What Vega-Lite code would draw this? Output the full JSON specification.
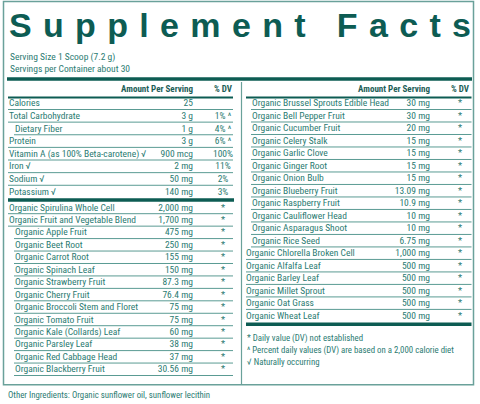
{
  "$schema": "https://vega.github.io/schema/vega-lite/v6.json",
  "width": 480,
  "height": 404,
  "autosize": {"type": "none"},
  "padding": 0,
  "background": "white",
  "config": {"view": {"stroke": null}, "text": {"font": "Roboto Condensed, Liberation Sans Narrow, Roboto, sans-serif"}},
  "resolve": {"scale": {"y": "independent"}},
  "datasets": {
    "rows": [
      {"panel": "L", "row": 1, "name": "Calories", "amount": "25", "dv": "", "level": 0},
      {"panel": "L", "row": 2, "name": "Total Carbohydrate", "amount": "3 g", "dv": "1% ^", "level": 0},
      {"panel": "L", "row": 3, "name": "Dietary Fiber", "amount": "1 g", "dv": "4% ^", "level": 1},
      {"panel": "L", "row": 4, "name": "Protein", "amount": "3 g", "dv": "6% ^", "level": 0},
      {"panel": "L", "row": 5, "name": "Vitamin A (as 100% Beta-carotene) √", "amount": "900 mcg", "dv": "100%", "level": 0},
      {"panel": "L", "row": 6, "name": "Iron √", "amount": "2 mg", "dv": "11%", "level": 0},
      {"panel": "L", "row": 7, "name": "Sodium √", "amount": "50 mg", "dv": "2%", "level": 0},
      {"panel": "L", "row": 8, "name": "Potassium √", "amount": "140 mg", "dv": "3%", "level": 0},
      {"panel": "L", "row": 9, "name": "Organic Spirulina Whole Cell", "amount": "2,000 mg", "dv": "*", "level": 0},
      {"panel": "L", "row": 10, "name": "Organic Fruit and Vegetable Blend", "amount": "1,700 mg", "dv": "*", "level": 0},
      {"panel": "L", "row": 11, "name": "Organic Apple Fruit", "amount": "475 mg", "dv": "*", "level": 1},
      {"panel": "L", "row": 12, "name": "Organic Beet Root", "amount": "250 mg", "dv": "*", "level": 1},
      {"panel": "L", "row": 13, "name": "Organic Carrot Root", "amount": "155 mg", "dv": "*", "level": 1},
      {"panel": "L", "row": 14, "name": "Organic Spinach Leaf", "amount": "150 mg", "dv": "*", "level": 1},
      {"panel": "L", "row": 15, "name": "Organic Strawberry Fruit", "amount": "87.3 mg", "dv": "*", "level": 1},
      {"panel": "L", "row": 16, "name": "Organic Cherry Fruit", "amount": "76.4 mg", "dv": "*", "level": 1},
      {"panel": "L", "row": 17, "name": "Organic Broccoli Stem and Floret", "amount": "75 mg", "dv": "*", "level": 1},
      {"panel": "L", "row": 18, "name": "Organic Tomato Fruit", "amount": "75 mg", "dv": "*", "level": 1},
      {"panel": "L", "row": 19, "name": "Organic Kale (Collards) Leaf", "amount": "60 mg", "dv": "*", "level": 1},
      {"panel": "L", "row": 20, "name": "Organic Parsley Leaf", "amount": "38 mg", "dv": "*", "level": 1},
      {"panel": "L", "row": 21, "name": "Organic Red Cabbage Head", "amount": "37 mg", "dv": "*", "level": 1},
      {"panel": "L", "row": 22, "name": "Organic Blackberry Fruit", "amount": "30.56 mg", "dv": "*", "level": 1},
      {"panel": "R", "row": 1, "name": "Organic Brussel Sprouts Edible Head", "amount": "30 mg", "dv": "*", "level": 1},
      {"panel": "R", "row": 2, "name": "Organic Bell Pepper Fruit", "amount": "30 mg", "dv": "*", "level": 1},
      {"panel": "R", "row": 3, "name": "Organic Cucumber Fruit", "amount": "20 mg", "dv": "*", "level": 1},
      {"panel": "R", "row": 4, "name": "Organic Celery Stalk", "amount": "15 mg", "dv": "*", "level": 1},
      {"panel": "R", "row": 5, "name": "Organic Garlic Clove", "amount": "15 mg", "dv": "*", "level": 1},
      {"panel": "R", "row": 6, "name": "Organic Ginger Root", "amount": "15 mg", "dv": "*", "level": 1},
      {"panel": "R", "row": 7, "name": "Organic Onion Bulb", "amount": "15 mg", "dv": "*", "level": 1},
      {"panel": "R", "row": 8, "name": "Organic Blueberry Fruit", "amount": "13.09 mg", "dv": "*", "level": 1},
      {"panel": "R", "row": 9, "name": "Organic Raspberry Fruit", "amount": "10.9 mg", "dv": "*", "level": 1},
      {"panel": "R", "row": 10, "name": "Organic Cauliflower Head", "amount": "10 mg", "dv": "*", "level": 1},
      {"panel": "R", "row": 11, "name": "Organic Asparagus Shoot", "amount": "10 mg", "dv": "*", "level": 1},
      {"panel": "R", "row": 12, "name": "Organic Rice Seed", "amount": "6.75 mg", "dv": "*", "level": 1},
      {"panel": "R", "row": 13, "name": "Organic Chlorella Broken Cell", "amount": "1,000 mg", "dv": "*", "level": 0},
      {"panel": "R", "row": 14, "name": "Organic Alfalfa Leaf", "amount": "500 mg", "dv": "*", "level": 0},
      {"panel": "R", "row": 15, "name": "Organic Barley Leaf", "amount": "500 mg", "dv": "*", "level": 0},
      {"panel": "R", "row": 16, "name": "Organic Millet Sprout", "amount": "500 mg", "dv": "*", "level": 0},
      {"panel": "R", "row": 17, "name": "Organic Oat Grass", "amount": "500 mg", "dv": "*", "level": 0},
      {"panel": "R", "row": 18, "name": "Organic Wheat Leaf", "amount": "500 mg", "dv": "*", "level": 0}
    ]
  },
  "data": {"name": "rows"},
  "layer": [
    {
      "data": {"values": [{}]},
      "mark": {"type": "rect", "fillOpacity": 0, "stroke": "#6aa19a", "strokeWidth": 1.5},
      "encoding": {
        "x": {"datum": 3.5, "type": "quantitative", "scale": {"domain": [0, 480], "nice": false, "zero": false}, "axis": null},
        "x2": {"datum": 473.5},
        "y": {"datum": -7.095, "type": "quantitative", "scale": {"domain": [-7.214, 24.849], "nice": false, "zero": false, "reverse": true}, "axis": null},
        "y2": {"datum": 23.325}
      }
    },
    {
      "data": {"values": [{}]},
      "mark": {"type": "text", "align": "left", "baseline": "alphabetic", "font": "Liberation Sans", "fontWeight": "bold", "fontSize": 34, "color": "#0d5c53", "text": "S\u2004u\u2004p\u2004p\u2004l\u2004e\u2004m\u2004e\u2004n\u2004t\u2004\u2004\u2005F\u2004a\u2004c\u2004t\u2004s"},
      "encoding": {
        "x": {"datum": 9},
        "y": {"datum": -4.278, "type": "quantitative", "scale": {"domain": [-7.214, 24.849], "nice": false, "zero": false, "reverse": true}, "axis": null}
      }
    },
    {
      "data": {"values": [{}]},
      "mark": {"type": "text", "align": "left", "baseline": "alphabetic", "fontSize": 9.5, "lineHeight": 12, "color": "#2b7b72", "text": ["Serving Size 1 Scoop (7.2 g)", "Servings per Container about 30"]},
      "encoding": {
        "x": {"datum": 10},
        "y": {"datum": -2.413, "type": "quantitative", "scale": {"domain": [-7.214, 24.849], "nice": false, "zero": false, "reverse": true}, "axis": null}
      }
    },
    {
      "data": {"values": [{}]},
      "mark": {"type": "rule", "color": "#0d5c53", "strokeWidth": 3.5},
      "encoding": {"x": {"datum": 7}, "x2": {"datum": 472}, "y": {"datum": -0.944, "type": "quantitative", "scale": {"domain": [-7.214, 24.849], "nice": false, "zero": false, "reverse": true}, "axis": null}}
    },
    {
      "data": {"values": [{}]},
      "mark": {"type": "rule", "color": "#6aa19a", "strokeWidth": 1.2},
      "encoding": {"x": {"datum": 241.5}, "y": {"datum": -0.706, "type": "quantitative", "scale": {"domain": [-7.214, 24.849], "nice": false, "zero": false, "reverse": true}, "axis": null}, "y2": {"datum": 23.325}}
    },
    {
      "data": {"values": [{}]},
      "mark": {"type": "text", "align": "right", "baseline": "middle", "fontWeight": "bold", "fontSize": 9, "color": "#1d5e57", "text": "Amount Per Serving"},
      "encoding": {"x": {"datum": 193}, "y": {"datum": -0.111, "type": "quantitative", "scale": {"domain": [-7.214, 24.849], "nice": false, "zero": false, "reverse": true}, "axis": null}}
    },
    {
      "data": {"values": [{}]},
      "mark": {"type": "text", "align": "right", "baseline": "middle", "fontWeight": "bold", "fontSize": 9, "color": "#1d5e57", "text": "Amount Per Serving"},
      "encoding": {"x": {"datum": 430}, "y": {"datum": -0.111, "type": "quantitative", "scale": {"domain": [-7.214, 24.849], "nice": false, "zero": false, "reverse": true}, "axis": null}}
    },
    {
      "data": {"values": [{}]},
      "mark": {"type": "text", "align": "center", "baseline": "middle", "fontWeight": "bold", "fontSize": 9, "color": "#1d5e57", "text": "% DV"},
      "encoding": {"x": {"datum": 223}, "y": {"datum": -0.111, "type": "quantitative", "scale": {"domain": [-7.214, 24.849], "nice": false, "zero": false, "reverse": true}, "axis": null}}
    },
    {
      "data": {"values": [{}]},
      "mark": {"type": "text", "align": "center", "baseline": "middle", "fontWeight": "bold", "fontSize": 9, "color": "#1d5e57", "text": "% DV"},
      "encoding": {"x": {"datum": 460}, "y": {"datum": -0.111, "type": "quantitative", "scale": {"domain": [-7.214, 24.849], "nice": false, "zero": false, "reverse": true}, "axis": null}}
    },
    {
      "data": {"values": [{}]},
      "mark": {"type": "rule", "color": "#0d5c53", "strokeWidth": 2},
      "encoding": {"x": {"datum": 8}, "x2": {"datum": 233}, "y": {"datum": 0.524, "type": "quantitative", "scale": {"domain": [-7.214, 24.849], "nice": false, "zero": false, "reverse": true}, "axis": null}}
    },
    {
      "data": {"values": [{}]},
      "mark": {"type": "rule", "color": "#0d5c53", "strokeWidth": 2},
      "encoding": {"x": {"datum": 246}, "x2": {"datum": 471.5}, "y": {"datum": 0.524, "type": "quantitative", "scale": {"domain": [-7.214, 24.849], "nice": false, "zero": false, "reverse": true}, "axis": null}}
    },
    {
      "transform": [{"filter": "datum.panel == 'L' && datum.row != 8 && datum.level == 0"}],
      "mark": {"type": "rule", "color": "#5a9b93", "strokeWidth": 1, "yOffset": 6.2},
      "encoding": {"x": {"datum": 8}, "x2": {"datum": 233}, "y": {"field": "row", "type": "quantitative", "scale": {"domain": [1, 8, 9, 22], "range": [103.3, 191.7, 207.5, 369.3], "nice": false, "zero": false}, "axis": null}}
    },
    {
      "transform": [{"filter": "datum.panel == 'L' && datum.level == 1"}],
      "mark": {"type": "rule", "color": "#5a9b93", "strokeWidth": 1, "yOffset": 6.2},
      "encoding": {"x": {"datum": 14}, "x2": {"datum": 233}, "y": {"field": "row", "type": "quantitative", "scale": {"domain": [1, 8, 9, 22], "range": [103.3, 191.7, 207.5, 369.3], "nice": false, "zero": false}, "axis": null}}
    },
    {
      "transform": [{"filter": "datum.panel == 'R' && datum.row != 18 && datum.level == 0"}],
      "mark": {"type": "rule", "color": "#5a9b93", "strokeWidth": 1, "yOffset": 6.2},
      "encoding": {"x": {"datum": 246}, "x2": {"datum": 471.5}, "y": {"field": "row", "type": "quantitative", "scale": {"domain": [1, 18], "range": [103.3, 315.7], "nice": false, "zero": false}, "axis": null}}
    },
    {
      "transform": [{"filter": "datum.panel == 'R' && datum.level == 1"}],
      "mark": {"type": "rule", "color": "#5a9b93", "strokeWidth": 1, "yOffset": 6.2},
      "encoding": {"x": {"datum": 251}, "x2": {"datum": 471.5}, "y": {"field": "row", "type": "quantitative", "scale": {"domain": [1, 18], "range": [103.3, 315.7], "nice": false, "zero": false}, "axis": null}}
    },
    {
      "data": {"values": [{}]},
      "mark": {"type": "rule", "color": "#0d5c53", "strokeWidth": 3.5},
      "encoding": {"x": {"datum": 8}, "x2": {"datum": 234}, "y": {"datum": 8.65, "type": "quantitative", "scale": {"domain": [-7.214, 24.849], "nice": false, "zero": false, "reverse": true}, "axis": null}}
    },
    {
      "data": {"values": [{}]},
      "mark": {"type": "rule", "color": "#0d5c53", "strokeWidth": 3.5},
      "encoding": {"x": {"datum": 246}, "x2": {"datum": 471.5}, "y": {"datum": 18.524, "type": "quantitative", "scale": {"domain": [-7.214, 24.849], "nice": false, "zero": false, "reverse": true}, "axis": null}}
    },
    {
      "transform": [{"filter": "datum.panel == 'L' && datum.level == 0"}],
      "mark": {"type": "text", "align": "left", "baseline": "middle", "fontSize": 9.5, "color": "#2b7b72"},
      "encoding": {"x": {"datum": 9}, "y": {"field": "row", "type": "quantitative", "scale": {"domain": [1, 8, 9, 22], "range": [103.3, 191.7, 207.5, 369.3], "nice": false, "zero": false}, "axis": null}, "text": {"field": "name"}}
    },
    {
      "transform": [{"filter": "datum.panel == 'L' && datum.level == 1"}],
      "mark": {"type": "text", "align": "left", "baseline": "middle", "fontSize": 9.5, "color": "#2b7b72"},
      "encoding": {"x": {"datum": 15}, "y": {"field": "row", "type": "quantitative", "scale": {"domain": [1, 8, 9, 22], "range": [103.3, 191.7, 207.5, 369.3], "nice": false, "zero": false}, "axis": null}, "text": {"field": "name"}}
    },
    {
      "transform": [{"filter": "datum.panel == 'R' && datum.level == 0"}],
      "mark": {"type": "text", "align": "left", "baseline": "middle", "fontSize": 9.5, "color": "#2b7b72"},
      "encoding": {"x": {"datum": 246}, "y": {"field": "row", "type": "quantitative", "scale": {"domain": [1, 18], "range": [103.3, 315.7], "nice": false, "zero": false}, "axis": null}, "text": {"field": "name"}}
    },
    {
      "transform": [{"filter": "datum.panel == 'R' && datum.level == 1"}],
      "mark": {"type": "text", "align": "left", "baseline": "middle", "fontSize": 9.5, "color": "#2b7b72"},
      "encoding": {"x": {"datum": 252}, "y": {"field": "row", "type": "quantitative", "scale": {"domain": [1, 18], "range": [103.3, 315.7], "nice": false, "zero": false}, "axis": null}, "text": {"field": "name"}}
    },
    {
      "transform": [{"filter": "datum.panel == 'L'"}],
      "mark": {"type": "text", "align": "right", "baseline": "middle", "fontSize": 9.5, "color": "#2b7b72"},
      "encoding": {"x": {"datum": 193}, "y": {"field": "row", "type": "quantitative", "scale": {"domain": [1, 8, 9, 22], "range": [103.3, 191.7, 207.5, 369.3], "nice": false, "zero": false}, "axis": null}, "text": {"field": "amount"}}
    },
    {
      "transform": [{"filter": "datum.panel == 'R'"}],
      "mark": {"type": "text", "align": "right", "baseline": "middle", "fontSize": 9.5, "color": "#2b7b72"},
      "encoding": {"x": {"datum": 430}, "y": {"field": "row", "type": "quantitative", "scale": {"domain": [1, 18], "range": [103.3, 315.7], "nice": false, "zero": false}, "axis": null}, "text": {"field": "amount"}}
    },
    {
      "transform": [{"filter": "datum.panel == 'L'"}],
      "mark": {"type": "text", "align": "center", "baseline": "middle", "fontSize": 9.5, "color": "#2b7b72"},
      "encoding": {"x": {"datum": 223}, "y": {"field": "row", "type": "quantitative", "scale": {"domain": [1, 8, 9, 22], "range": [103.3, 191.7, 207.5, 369.3], "nice": false, "zero": false}, "axis": null}, "text": {"field": "dv"}}
    },
    {
      "transform": [{"filter": "datum.panel == 'R'"}],
      "mark": {"type": "text", "align": "center", "baseline": "middle", "fontSize": 9.5, "color": "#2b7b72"},
      "encoding": {"x": {"datum": 460}, "y": {"field": "row", "type": "quantitative", "scale": {"domain": [1, 18], "range": [103.3, 315.7], "nice": false, "zero": false}, "axis": null}, "text": {"field": "dv"}}
    },
    {
      "data": {"values": [{}]},
      "mark": {"type": "text", "align": "left", "baseline": "alphabetic", "fontSize": 8.8, "lineHeight": 12, "color": "#2b7b72", "text": ["*  Daily value (DV) not established", "^  Percent daily values (DV) are based on a 2,000 calorie diet", "√ Naturally occurring"]},
      "encoding": {"x": {"datum": 247}, "y": {"datum": 19.849, "type": "quantitative", "scale": {"domain": [-7.214, 24.849], "nice": false, "zero": false, "reverse": true}, "axis": null}}
    },
    {
      "data": {"values": [{}]},
      "mark": {"type": "text", "align": "left", "baseline": "middle", "fontSize": 8.8, "color": "#2b7b72", "text": "Other Ingredients: Organic sunflower oil, sunflower lecithin"},
      "encoding": {"x": {"datum": 8}, "y": {"datum": 24.135, "type": "quantitative", "scale": {"domain": [-7.214, 24.849], "nice": false, "zero": false, "reverse": true}, "axis": null}}
    }
  ]
}
